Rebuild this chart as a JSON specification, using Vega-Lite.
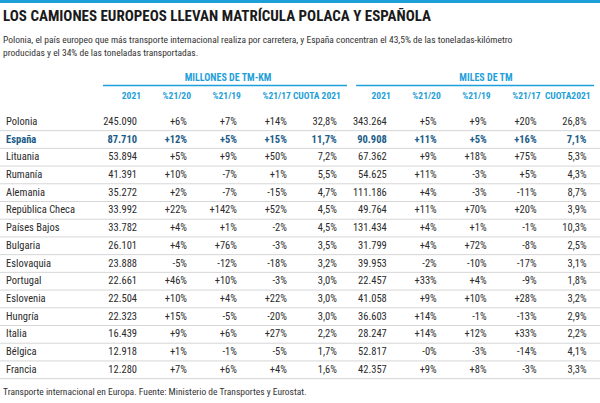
{
  "$schema": "https://vega.github.io/schema/vega-lite/v6.json",
  "width": 600,
  "height": 403,
  "autosize": {"type": "none"},
  "padding": 0,
  "background": "white",
  "config": {
    "view": {"stroke": null},
    "axis": {"disable": true},
    "text": {"font": "Roboto Condensed, DejaVu Sans Condensed, Liberation Sans Narrow, Roboto"},
    "locale": {"number": {"decimal": ",", "thousands": ".", "grouping": [3], "currency": ["", " €"], "minus": "-", "percent": "%"}}
  },
  "datasets": {
    "textos": [
      {"id": "titulo", "texto": "LOS CAMIONES EUROPEOS LLEVAN MATRÍCULA POLACA Y ESPAÑOLA"},
      {"id": "sub1", "texto": "Polonia, el país europeo que más transporte internacional realiza por carretera, y España concentran el 43,5% de las toneladas-kilómetro"},
      {"id": "sub2", "texto": "producidas y el 34% de las toneladas transportadas."},
      {"id": "grupoM", "texto": "MILLONES DE TM-KM"},
      {"id": "grupoT", "texto": "MILES DE TM"},
      {"id": "nota", "texto": "Transporte internacional en Europa. Fuente: Ministerio de Transportes y Eurostat."}
    ],
    "cabeceras": [
      {"col": "m2021", "cab": "2021"},
      {"col": "m2120", "cab": "%21/20"},
      {"col": "m2119", "cab": "%21/19"},
      {"col": "m2117", "cab": "%21/17"},
      {"col": "mcuota", "cab": "CUOTA 2021"},
      {"col": "t2021", "cab": "2021"},
      {"col": "t2120", "cab": "%21/20"},
      {"col": "t2119", "cab": "%21/19"},
      {"col": "t2117", "cab": "%21/17"},
      {"col": "tcuota", "cab": "CUOTA2021"}
    ],
    "tabla": [
      {"pais": "Polonia", "m2021": 245090, "m2120": 0.06, "m2119": 0.07, "m2117": 0.14, "mcuota": 0.328, "t2021": 343264, "t2120": 0.05, "t2119": 0.09, "t2117": 0.20, "tcuota": 0.268},
      {"pais": "España", "m2021": 87710, "m2120": 0.12, "m2119": 0.05, "m2117": 0.15, "mcuota": 0.117, "t2021": 90908, "t2120": 0.11, "t2119": 0.05, "t2117": 0.16, "tcuota": 0.071},
      {"pais": "Lituania", "m2021": 53894, "m2120": 0.05, "m2119": 0.09, "m2117": 0.50, "mcuota": 0.072, "t2021": 67362, "t2120": 0.09, "t2119": 0.18, "t2117": 0.75, "tcuota": 0.053},
      {"pais": "Rumanía", "m2021": 41391, "m2120": 0.10, "m2119": -0.07, "m2117": 0.01, "mcuota": 0.055, "t2021": 54625, "t2120": 0.11, "t2119": -0.03, "t2117": 0.05, "tcuota": 0.043},
      {"pais": "Alemania", "m2021": 35272, "m2120": 0.02, "m2119": -0.07, "m2117": -0.15, "mcuota": 0.047, "t2021": 111186, "t2120": 0.04, "t2119": -0.03, "t2117": -0.11, "tcuota": 0.087},
      {"pais": "República Checa", "m2021": 33992, "m2120": 0.22, "m2119": 1.42, "m2117": 0.52, "mcuota": 0.045, "t2021": 49764, "t2120": 0.11, "t2119": 0.70, "t2117": 0.20, "tcuota": 0.039},
      {"pais": "Países Bajos", "m2021": 33782, "m2120": 0.04, "m2119": 0.01, "m2117": -0.02, "mcuota": 0.045, "t2021": 131434, "t2120": 0.04, "t2119": 0.01, "t2117": -0.01, "tcuota": 0.103},
      {"pais": "Bulgaria", "m2021": 26101, "m2120": 0.04, "m2119": 0.76, "m2117": -0.03, "mcuota": 0.035, "t2021": 31799, "t2120": 0.04, "t2119": 0.72, "t2117": -0.08, "tcuota": 0.025},
      {"pais": "Eslovaquia", "m2021": 23888, "m2120": -0.05, "m2119": -0.12, "m2117": -0.18, "mcuota": 0.032, "t2021": 39953, "t2120": -0.02, "t2119": -0.10, "t2117": -0.17, "tcuota": 0.031},
      {"pais": "Portugal", "m2021": 22661, "m2120": 0.46, "m2119": 0.10, "m2117": -0.03, "mcuota": 0.030, "t2021": 22457, "t2120": 0.33, "t2119": 0.04, "t2117": -0.09, "tcuota": 0.018},
      {"pais": "Eslovenia", "m2021": 22504, "m2120": 0.10, "m2119": 0.04, "m2117": 0.22, "mcuota": 0.030, "t2021": 41058, "t2120": 0.09, "t2119": 0.10, "t2117": 0.28, "tcuota": 0.032},
      {"pais": "Hungría", "m2021": 22323, "m2120": 0.15, "m2119": -0.05, "m2117": -0.20, "mcuota": 0.030, "t2021": 36603, "t2120": 0.14, "t2119": -0.01, "t2117": -0.13, "tcuota": 0.029},
      {"pais": "Italia", "m2021": 16439, "m2120": 0.09, "m2119": 0.06, "m2117": 0.27, "mcuota": 0.022, "t2021": 28247, "t2120": 0.14, "t2119": 0.12, "t2117": 0.33, "tcuota": 0.022},
      {"pais": "Bélgica", "m2021": 12918, "m2120": 0.01, "m2119": -0.01, "m2117": -0.05, "mcuota": 0.017, "t2021": 52817, "t2120": -0.002, "t2119": -0.03, "t2117": -0.14, "tcuota": 0.041},
      {"pais": "Francia", "m2021": 12280, "m2120": 0.07, "m2119": 0.06, "m2117": 0.04, "mcuota": 0.016, "t2021": 42357, "t2120": 0.09, "t2119": 0.08, "t2117": -0.03, "tcuota": 0.033}
    ]
  },
  "layer": [
    {
      "data": {"name": "tabla"},
      "mark": {"type": "rule", "color": "#d6d6d6", "strokeWidth": 1},
      "encoding": {
        "y": {"field": "pais", "type": "nominal", "bandPosition": 1, "axis": null,
          "scale": {"type": "band", "domain": ["titulo", "sub1", "sub2", "vacio", "grupo", "cabecera", "Polonia", "España", "Lituania", "Rumanía", "Alemania", "República Checa", "Países Bajos", "Bulgaria", "Eslovaquia", "Portugal", "Eslovenia", "Hungría", "Italia", "Bélgica", "Francia", "nota"], "paddingInner": 0, "paddingOuter": 0.375, "align": 0.5, "round": false}}
      }
    },
    {
      "data": {"name": "textos"},
      "transform": [{"filter": "datum.id === 'titulo'"}],
      "mark": {"type": "rule", "color": "#1f9fd9", "strokeWidth": 3},
      "encoding": {"y": {"datum": "titulo", "type": "nominal", "bandPosition": -0.29}}
    },
    {
      "data": {"name": "textos"},
      "transform": [{"filter": "datum.id === 'titulo'"}],
      "mark": {"type": "text", "align": "left", "baseline": "middle", "fontWeight": "bold", "fontSize": 15, "color": "#1a1a1a"},
      "encoding": {
        "x": {"datum": "izq", "type": "nominal", "bandPosition": 0, "axis": null,
          "scale": {"type": "band", "domain": ["izq", "esp", "m2021", "m2120", "m2119", "m2117", "mcuota", "t2021", "t2120", "t2119", "t2117", "tcuota"], "paddingInner": 0.319, "paddingOuter": 0.1655, "align": 0.1875, "round": false}},
        "y": {"datum": "titulo", "type": "nominal", "bandPosition": 0.53},
        "text": {"field": "texto"}
      }
    },
    {
      "data": {"name": "textos"},
      "transform": [{"filter": "datum.id === 'sub1'"}],
      "mark": {"type": "text", "align": "left", "baseline": "middle", "fontSize": 9.5, "color": "#333333"},
      "encoding": {
        "x": {"datum": "izq", "type": "nominal", "bandPosition": 0},
        "y": {"datum": "sub1", "type": "nominal", "bandPosition": 0.855},
        "text": {"field": "texto"}
      }
    },
    {
      "data": {"name": "textos"},
      "transform": [{"filter": "datum.id === 'sub2'"}],
      "mark": {"type": "text", "align": "left", "baseline": "middle", "fontSize": 9.5, "color": "#333333"},
      "encoding": {
        "x": {"datum": "izq", "type": "nominal", "bandPosition": 0},
        "y": {"datum": "sub2", "type": "nominal", "bandPosition": 0.617},
        "text": {"field": "texto"}
      }
    },
    {
      "data": {"name": "textos"},
      "transform": [{"filter": "datum.id === 'grupoM'"}],
      "mark": {"type": "text", "align": "center", "baseline": "middle", "fontWeight": "bold", "fontSize": 10, "color": "#1f9fd9"},
      "encoding": {
        "x": {"datum": "m2119", "type": "nominal", "bandPosition": 0.74},
        "y": {"datum": "grupo", "type": "nominal", "bandPosition": 0},
        "text": {"field": "texto"}
      }
    },
    {
      "data": {"name": "textos"},
      "transform": [{"filter": "datum.id === 'grupoT'"}],
      "mark": {"type": "text", "align": "center", "baseline": "middle", "fontWeight": "bold", "fontSize": 10, "color": "#1f9fd9"},
      "encoding": {
        "x": {"datum": "t2119", "type": "nominal", "bandPosition": 0.98},
        "y": {"datum": "grupo", "type": "nominal", "bandPosition": 0},
        "text": {"field": "texto"}
      }
    },
    {
      "data": {"name": "textos"},
      "transform": [{"filter": "datum.id === 'grupoM'"}],
      "mark": {"type": "rule", "color": "#1f9fd9", "strokeWidth": 1.5},
      "encoding": {
        "x": {"datum": "m2021", "type": "nominal", "bandPosition": 0},
        "x2": {"datum": "mcuota", "bandPosition": 1.3},
        "y": {"datum": "grupo", "type": "nominal", "bandPosition": 0.45}
      }
    },
    {
      "data": {"name": "textos"},
      "transform": [{"filter": "datum.id === 'grupoT'"}],
      "mark": {"type": "rule", "color": "#1f9fd9", "strokeWidth": 1.5},
      "encoding": {
        "x": {"datum": "t2021", "type": "nominal", "bandPosition": 0.1},
        "x2": {"datum": "tcuota", "bandPosition": 1.22},
        "y": {"datum": "grupo", "type": "nominal", "bandPosition": 0.45}
      }
    },
    {
      "data": {"name": "cabeceras"},
      "mark": {"type": "text", "align": "right", "baseline": "middle", "dx": 4, "fontWeight": "bold", "fontSize": 9.5, "color": "#1f9fd9"},
      "encoding": {
        "x": {"field": "col", "type": "nominal", "bandPosition": 1},
        "y": {"datum": "cabecera", "type": "nominal", "bandPosition": 0.045},
        "text": {"field": "cab"}
      }
    },
    {
      "data": {"name": "tabla"},
      "transform": [{"filter": "datum.pais !== 'España'"}],
      "mark": {"type": "text", "align": "left", "baseline": "middle", "dx": 3, "fontSize": 10.5, "color": "#2b2b2b"},
      "encoding": {
        "x": {"datum": "izq", "type": "nominal", "bandPosition": 0},
        "y": {"field": "pais", "type": "nominal", "bandPosition": 0.5},
        "text": {"field": "pais"}
      }
    },
    {
      "data": {"name": "tabla"},
      "transform": [{"filter": "datum.pais === 'España'"}],
      "mark": {"type": "text", "align": "left", "baseline": "middle", "dx": 3, "fontWeight": "bold", "fontSize": 10.5, "color": "#1b5c88"},
      "encoding": {
        "x": {"datum": "izq", "type": "nominal", "bandPosition": 0},
        "y": {"field": "pais", "type": "nominal", "bandPosition": 0.5},
        "text": {"field": "pais"}
      }
    },
    {
      "data": {"name": "tabla"},
      "transform": [{"fold": ["m2021", "m2120", "m2119", "m2117", "mcuota", "t2021", "t2120", "t2119", "t2117", "tcuota"], "as": ["col", "valor"]}],
      "encoding": {
        "x": {"field": "col", "type": "nominal", "bandPosition": 1},
        "y": {"field": "pais", "type": "nominal", "bandPosition": 0.5}
      },
      "layer": [
        {
          "transform": [{"filter": "datum.pais !== 'España' && (datum.col === 'm2021' || datum.col === 't2021')"}],
          "mark": {"type": "text", "align": "right", "baseline": "middle", "fontSize": 10.5, "color": "#2b2b2b"},
          "encoding": {"text": {"field": "valor", "type": "quantitative", "format": ",d"}}
        },
        {
          "transform": [{"filter": "datum.pais !== 'España' && (datum.col === 'mcuota' || datum.col === 'tcuota')"}],
          "mark": {"type": "text", "align": "right", "baseline": "middle", "fontSize": 10.5, "color": "#2b2b2b"},
          "encoding": {"text": {"field": "valor", "type": "quantitative", "format": ".1%"}}
        },
        {
          "transform": [{"filter": "datum.pais !== 'España' && indexof(['m2120','m2119','m2117','t2120','t2119','t2117'], datum.col) >= 0"}],
          "mark": {"type": "text", "align": "right", "baseline": "middle", "fontSize": 10.5, "color": "#2b2b2b"},
          "encoding": {"text": {"field": "valor", "type": "quantitative", "format": "+.0%"}}
        },
        {
          "transform": [{"filter": "datum.pais === 'España' && (datum.col === 'm2021' || datum.col === 't2021')"}],
          "mark": {"type": "text", "align": "right", "baseline": "middle", "fontWeight": "bold", "fontSize": 10.5, "color": "#1b5c88"},
          "encoding": {"text": {"field": "valor", "type": "quantitative", "format": ",d"}}
        },
        {
          "transform": [{"filter": "datum.pais === 'España' && (datum.col === 'mcuota' || datum.col === 'tcuota')"}],
          "mark": {"type": "text", "align": "right", "baseline": "middle", "fontWeight": "bold", "fontSize": 10.5, "color": "#1b5c88"},
          "encoding": {"text": {"field": "valor", "type": "quantitative", "format": ".1%"}}
        },
        {
          "transform": [{"filter": "datum.pais === 'España' && indexof(['m2120','m2119','m2117','t2120','t2119','t2117'], datum.col) >= 0"}],
          "mark": {"type": "text", "align": "right", "baseline": "middle", "fontWeight": "bold", "fontSize": 10.5, "color": "#1b5c88"},
          "encoding": {"text": {"field": "valor", "type": "quantitative", "format": "+.0%"}}
        }
      ]
    },
    {
      "data": {"name": "textos"},
      "transform": [{"filter": "datum.id === 'nota'"}],
      "mark": {"type": "text", "align": "left", "baseline": "middle", "fontSize": 9.5, "color": "#333333"},
      "encoding": {
        "x": {"datum": "izq", "type": "nominal", "bandPosition": 0},
        "y": {"datum": "nota", "type": "nominal", "bandPosition": 0.755},
        "text": {"field": "texto"}
      }
    }
  ]
}
